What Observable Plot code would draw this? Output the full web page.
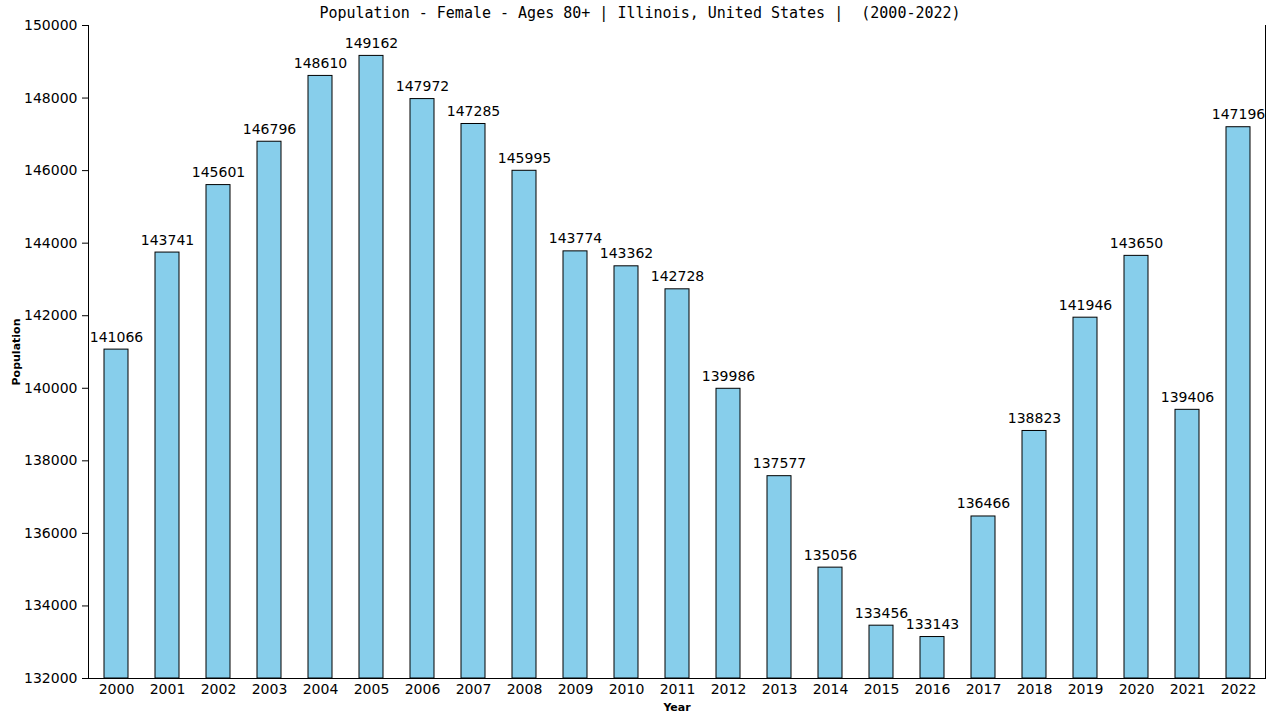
<!DOCTYPE html>
<html>
<head>
<meta charset="utf-8">
<script src="https://cdn.jsdelivr.net/npm/d3@7"></script>
<script src="https://cdn.jsdelivr.net/npm/@observablehq/plot@0.6"></script>
<style>
  html, body { margin: 0; padding: 0; background: #fff; }
  #wrap { position: relative; width: 1280px; height: 720px; }
  #title { position: absolute; top: 4px; left: 0; width: 1280px; text-align: center;
    font: 15px "DejaVu Sans Mono", monospace; color: #000; white-space: pre; }
  g[aria-label="y-axis label"] text, g[aria-label="x-axis label"] text { font: bold 11px "DejaVu Sans", sans-serif; }
</style>
</head>
<body>
<div id="wrap">
<div id="title">Population - Female - Ages 80+ | Illinois, United States |  (2000-2022)</div>
<div id="chart"></div>
</div>
<script>
const years = ["2000","2001","2002","2003","2004","2005","2006","2007","2008","2009","2010","2011","2012","2013","2014","2015","2016","2017","2018","2019","2020","2021","2022"];
const values = [141066,143741,145601,146796,148610,149162,147972,147285,145995,143774,143362,142728,139986,137577,135056,133456,133143,136466,138823,141946,143650,139406,147196];
const yTicks = [132000,134000,136000,138000,140000,142000,144000,146000,148000,150000];
const yMin = 132000, yMax = 150000;

const data = years.map((y, i) => ({year: y, value: values[i]}));

const chart = Plot.plot({
  width: 1280,
  height: 720,
  marginLeft: 88,
  marginRight: 15,
  marginTop: 25,
  marginBottom: 42,
  style: {fontFamily: "DejaVu Sans, sans-serif", fontSize: "14px", color: "#000", background: "#fff"},
  x: {domain: years, paddingInner: 0.53, paddingOuter: 0.265, align: 0.5},
  y: {domain: [yMin, yMax]},
  marks: [
    Plot.barY(data, {x: "year", y1: () => yMin, y2: "value", fill: "#87CEEB", stroke: "#000", strokeWidth: 1}),
    Plot.text(data, {x: "year", y: "value", text: d => String(d.value), lineAnchor: "bottom", dy: -8, fontSize: 14, fill: "#000"}),
    Plot.axisY({ticks: yTicks, tickFormat: d => String(d), tickSize: 6, tickPadding: 5, fontSize: 14, label: "Population", labelAnchor: "center", labelArrow: "none", labelOffset: 76}),
    Plot.axisX({tickSize: 0, tickPadding: 6, fontSize: 14, label: "Year", labelAnchor: "center", labelArrow: "none", labelOffset: 32}),
    Plot.frame({anchor: "left", stroke: "#000"}),
    Plot.frame({anchor: "bottom", stroke: "#000"}),
    Plot.frame({anchor: "right", stroke: "#000"})
  ]
});
document.getElementById("chart").appendChild(chart);
</script>
</body>
</html>
